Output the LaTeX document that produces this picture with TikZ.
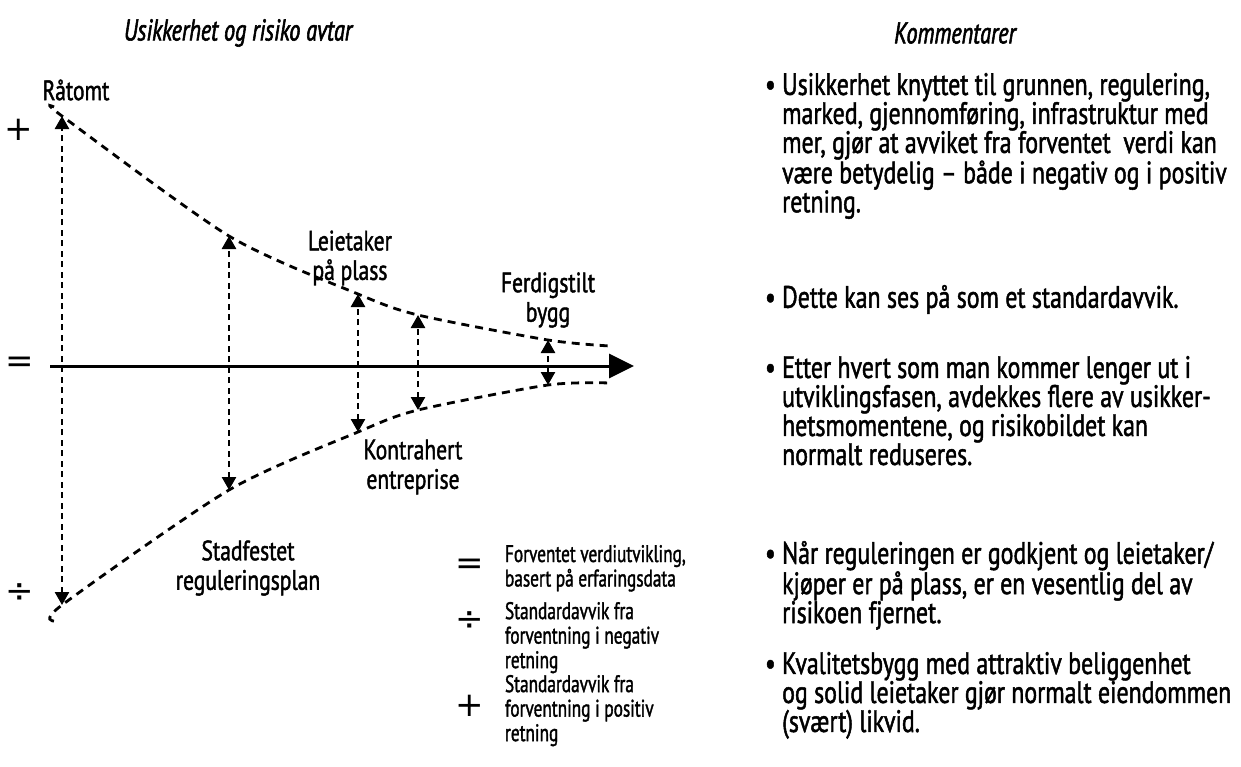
\documentclass[tikz,border=0pt]{standalone}
\usepackage{fontspec}
\setmainfont{PT Sans}[FakeStretch=0.77, FakeBold=1.5]
\newfontfamily\legfont{PT Sans}[FakeStretch=0.72, FakeBold=1.4]
\newfontfamily\headfont{PT Sans}[FakeStretch=0.74, FakeBold=1.9]
\newfontfamily\symfont{DejaVu Sans}
\usetikzlibrary{arrows.meta}
\begin{document}
\begin{tikzpicture}[x=1pt,y=-1pt,
  every node/.style={inner sep=0pt, outer sep=0pt},
  headtxt/.style={font=\headfont\fontsize{30}{31}\selectfont\itshape},
  lbl/.style={font=\fontsize{28}{29.5}\selectfont, align=center},
  legtxt/.style={font=\legfont\fontsize{24}{24.5}\selectfont, align=left, anchor=north west},
  bultxt/.style={font=\fontsize{31}{29}\selectfont, align=left, anchor=north west},
  sym/.style={font=\symfont\fontsize{34}{34}\selectfont},
  curve/.style={line width=2.8pt, dash pattern=on 8pt off 6pt},
  span/.style={line width=2.6pt, dash pattern=on 6pt off 4.5pt,
    {Triangle[width=14pt,length=13pt]}-{Triangle[width=14pt,length=13pt]}},
  axis/.style={line width=3pt, -{Triangle[width=24pt,length=25pt]}}
]
\useasboundingbox (0,0) rectangle (1241,766);

% headings
\node[headtxt] (h1) at (238,33) {Usikkerhet og risiko avtar};
\node[headtxt] (h2) at (955,33) {Kommentarer};

% scale symbols at the left
\node[sym] (plus) at (19,130) {+};
\node[sym] (eq) at (20,365) {=};
\node[sym] (div) at (20,593) {÷};

% points on the upper and lower bounds
\coordinate (u0) at (54,107);
\coordinate (u1) at (62,116);
\coordinate (u2) at (229,236);
\coordinate (u3) at (358,294);
\coordinate (u4) at (418,315);
\coordinate (u5) at (548,340);
\coordinate (u6) at (610,346);
\coordinate (l0) at (54,621);
\coordinate (l1) at (62,605);
\coordinate (l2) at (229,490);
\coordinate (l3) at (358,432);
\coordinate (l4) at (418,410);
\coordinate (l5) at (548,385);
\coordinate (l6) at (610,383);

\draw[curve] plot[smooth, tension=0.45] coordinates {(u0) (u1) (u2) (u3) (u4) (u5) (u6)};
\draw[curve] plot[smooth, tension=0.45] coordinates {(l0) (l1) (l2) (l3) (l4) (l5) (l6)};

% expected value axis
\coordinate (a0) at (50,366);
\coordinate (a1) at (634,366);
\draw[axis] (a0) -- (a1);

% deviation spans
\draw[span] (l1) -- (u1);
\draw[span] (l2) -- (u2);
\draw[span] (l3) -- (u3);
\draw[span] (l4) -- (u4);
\draw[span] (l5) -- (u5);

% phase labels
\node[lbl] (ratomt) at (76,90) {Råtomt};
\node[lbl] (leie) at (350,258) {Leietaker\\på plass};
\node[lbl] (ferdig) at (548,300) {Ferdigstilt\\bygg};
\node[lbl] (kontr) at (413,467) {Kontrahert\\entreprise};
\node[lbl] (stad) at (248,568) {Stadfestet\\reguleringsplan};

% legend
\node[sym] (leq) at (470,567) {=};
\node[legtxt] (leqt) at (505,545) {Forventet verdiutvikling,\\basert på erfaringsdata};
\node[sym] (ldiv) at (470,621) {÷};
\node[legtxt] (ldivt) at (505,602) {Standardavvik fra\\forventning i negativ\\retning};
\node[sym] (lplus) at (470,706) {+};
\node[legtxt] (lplust) at (505,675) {Standardavvik fra\\forventning i positiv\\retning};

% comments
\node[bultxt] (b1) at (765,73) {• Usikkerhet knyttet til grunnen, regulering,\\
\phantom{• }marked, gjennomføring, infrastruktur med\\
\phantom{• }mer, gjør at avviket fra forventet \ verdi kan\\
\phantom{• }være betydelig – både i negativ og i positiv\\
\phantom{• }retning.};
\node[bultxt] (b2) at (765,285) {• Dette kan ses på som et standardavvik.};
\node[bultxt] (b3) at (765,356) {• Etter hvert som man kommer lenger ut i\\
\phantom{• }utviklingsfasen, avdekkes flere av usikker-\\
\phantom{• }hetsmomentene, og risikobildet kan\\
\phantom{• }normalt reduseres.};
\node[bultxt] (b4) at (765,541) {• Når reguleringen er godkjent og leietaker/\\
\phantom{• }kjøper er på plass, er en vesentlig del av\\
\phantom{• }risikoen fjernet.};
\node[bultxt] (b5) at (765,652) {• Kvalitetsbygg med attraktiv beliggenhet\\
\phantom{• }og solid leietaker gjør normalt eiendommen\\
\phantom{• }(svært) likvid.};
\end{tikzpicture}
\end{document}
